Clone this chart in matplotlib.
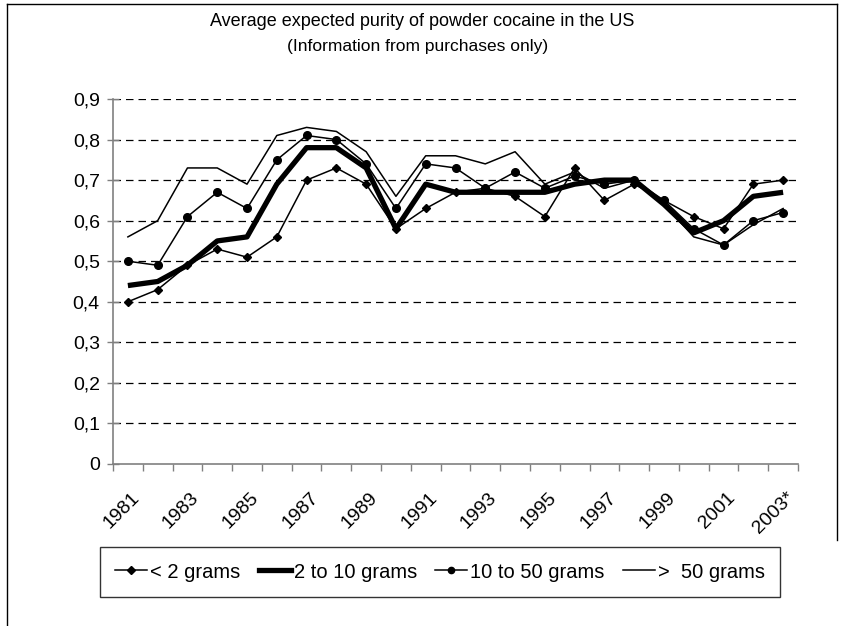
import matplotlib
matplotlib.use("Agg")
import matplotlib.pyplot as plt
from matplotlib.lines import Line2D
import numpy as np

plt.rcParams['font.family'] = ['Liberation Sans', 'DejaVu Sans']

years = [str(y) for y in range(1981, 2003)] + ["2003*"]
tick_labels = [y if i % 2 == 0 else "" for i, y in enumerate(years)]

lt2 = [0.40, 0.43, 0.49, 0.53, 0.51, 0.56, 0.70, 0.73, 0.69, 0.58, 0.63, 0.67,
       0.68, 0.66, 0.61, 0.73, 0.65, 0.69, 0.65, 0.61, 0.58, 0.69, 0.70]
g2_10 = [0.44, 0.45, 0.49, 0.55, 0.56, 0.69, 0.78, 0.78, 0.73, 0.58, 0.69, 0.67,
         0.67, 0.67, 0.67, 0.69, 0.70, 0.70, 0.64, 0.57, 0.60, 0.66, 0.67]
g10_50 = [0.50, 0.49, 0.61, 0.67, 0.63, 0.75, 0.81, 0.80, 0.74, 0.63, 0.74, 0.73,
          0.68, 0.72, 0.68, 0.71, 0.69, 0.70, 0.65, 0.58, 0.54, 0.60, 0.62]
gt50 = [0.56, 0.60, 0.73, 0.73, 0.69, 0.81, 0.83, 0.82, 0.77, 0.66, 0.76, 0.76,
        0.74, 0.77, 0.69, 0.72, 0.68, 0.70, 0.64, 0.56, 0.54, 0.59, 0.63]

series_labels = ["< 2 grams", "2 to 10 grams", "10 to 50 grams", ">  50 grams"]
yticks = [0, 0.1, 0.2, 0.3, 0.4, 0.5, 0.6, 0.7, 0.8, 0.9]
ytick_labels = ["0", "0,1", "0,2", "0,3", "0,4", "0,5", "0,6", "0,7", "0,8", "0,9"]

W, H = 844, 626
fig = plt.figure(figsize=(W / 100, H / 100), dpi=100)
ax = fig.add_axes([113 / W, 1 - 464 / H, (798 - 113) / W, (464 - 99) / H])

x = np.arange(len(years))
l1, = ax.plot(x, lt2, color='black', lw=1.1, marker='D', ms=4.2, zorder=4)
l2, = ax.plot(x, g2_10, color='black', lw=3.8, zorder=5, solid_capstyle='butt')
l3, = ax.plot(x, g10_50, color='black', lw=1.1, marker='o', ms=5.5, zorder=4)
l4, = ax.plot(x, gt50, color='black', lw=1.1, zorder=3)

ax.set_xlim(-0.5, len(years) - 0.5)
ax.set_ylim(0, 0.9)
ax.set_yticks(yticks)
ax.set_yticklabels(ytick_labels, fontsize=14)
for v in yticks[1:]:
    ax.axhline(v, color='black', lw=0.9, ls=(0, (6, 4)), zorder=1)

ax.set_xticks(np.arange(len(years) + 1) - 0.5, minor=False)
ax.set_xticklabels([])
ax.tick_params(axis='x', direction='out', length=5, color='#808080', width=1)
ax.tick_params(axis='y', direction='inout', length=9, color='#808080', width=1, pad=5)
for i, lab in enumerate(tick_labels):
    if lab:
        ax.text(i + 0.1, -0.062, lab, rotation=45, ha='right', va='top',
                rotation_mode='anchor', fontsize=14, transform=ax.transData,
                clip_on=False)

for s in ['top', 'right']:
    ax.spines[s].set_visible(False)
for s in ['left', 'bottom']:
    ax.spines[s].set_color('#808080')
    ax.spines[s].set_linewidth(1.2)

fig.text(422 / W, 1 - 22 / H, "Average expected purity of powder cocaine in the US",
         ha='center', va='center', fontsize=13)
fig.text(418 / W, 1 - 47 / H, "(Information from purchases only)",
         ha='center', va='center', fontsize=12.5)

handles = [Line2D([], [], color='black', lw=1.1, marker='D', ms=4),
           Line2D([], [], color='black', lw=3.8),
           Line2D([], [], color='black', lw=1.1, marker='o', ms=4.5),
           Line2D([], [], color='black', lw=1.1)]
leg = fig.legend(handles, series_labels, loc='center', ncol=4,
                 bbox_to_anchor=(440 / W, 1 - 572 / H), fontsize=14.5,
                 frameon=True, fancybox=False, edgecolor='black',
                 handlelength=1.6, handletextpad=0.15, columnspacing=0.9,
                 borderpad=0.75)
leg.get_frame().set_linewidth(1.0)

# figure frame
fig.add_artist(Line2D([7 / W, 7 / W], [0, 1 - 4 / H], color='black', lw=1, transform=fig.transFigure))
fig.add_artist(Line2D([7 / W, 837 / W], [1 - 4 / H, 1 - 4 / H], color='black', lw=1, transform=fig.transFigure))
fig.add_artist(Line2D([837 / W, 837 / W], [1 - 4 / H, 1 - 540 / H], color='black', lw=1, transform=fig.transFigure))

fig.savefig("out.png", dpi=100)
